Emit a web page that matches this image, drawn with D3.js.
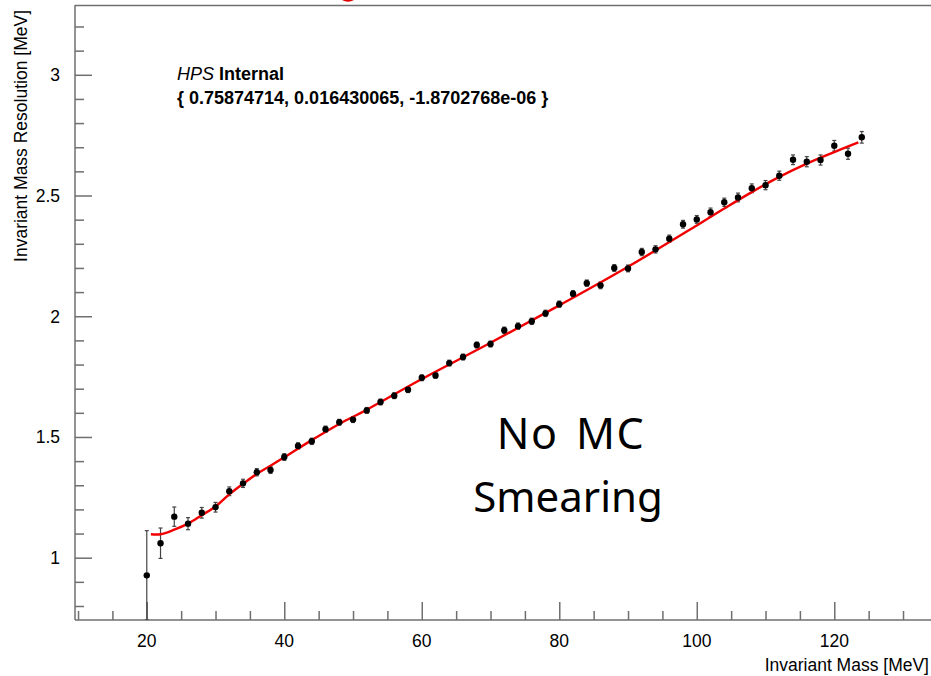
<!DOCTYPE html>
<html>
<head>
<meta charset="utf-8">
<script src="https://cdn.jsdelivr.net/npm/d3@7/dist/d3.min.js"></script>
<style>
  html, body { margin: 0; padding: 0; background: #fff; }
  svg { display: block; }
  text { font-family: "Liberation Sans", Arial, Helvetica, sans-serif; }
</style>
</head>
<body>
<svg id="chart" width="931" height="676"></svg>
<script>
// Measured invariant-mass points (MeV) and their resolutions (MeV)
const massValues = [20, 22, 24, 26, 28, 30, 32, 34, 36, 38, 40, 42, 44, 46, 48, 50,
  52, 54, 56, 58, 60, 62, 64, 66, 68, 70, 72, 74, 76, 78, 80, 82, 84, 86, 88, 90,
  92, 94, 96, 98, 100, 102, 104, 106, 108, 110, 112, 114, 116, 118, 120, 122, 124];
const resolutionValues = [0.927, 1.060, 1.170, 1.141, 1.186, 1.209, 1.275, 1.308, 1.354, 1.363,
  1.417, 1.463, 1.482, 1.532, 1.561, 1.572, 1.610, 1.645, 1.671, 1.696, 1.745, 1.755,
  1.806, 1.831, 1.881, 1.885, 1.942, 1.959, 1.979, 2.012, 2.050, 2.093, 2.137, 2.128,
  2.200, 2.198, 2.266, 2.277, 2.321, 2.381, 2.401, 2.431, 2.472, 2.492, 2.530, 2.543,
  2.582, 2.648, 2.640, 2.647, 2.706, 2.673, 2.741];
const resolutionErrors = [0.185, 0.063, 0.040, 0.025, 0.022, 0.020, 0.018, 0.017, 0.015, 0.014,
  0.014, 0.013, 0.013, 0.013, 0.012, 0.012, 0.012, 0.012, 0.012, 0.012, 0.012, 0.012,
  0.012, 0.012, 0.012, 0.012, 0.013, 0.013, 0.013, 0.013, 0.013, 0.013, 0.013, 0.014,
  0.014, 0.014, 0.015, 0.015, 0.015, 0.016, 0.016, 0.017, 0.017, 0.018, 0.018, 0.019,
  0.019, 0.020, 0.021, 0.021, 0.022, 0.023, 0.024];

// Fitted resolution curve, sampled along the fit range
const fitMass = [20.6, 22, 24, 26, 28, 30, 32, 34, 36, 38, 40, 44, 48, 52, 60, 70, 80, 90,
  100, 104, 108, 112, 116, 120, 123.5];
const fitResolution = [1.097, 1.097, 1.116, 1.141, 1.176, 1.212, 1.262, 1.306, 1.347, 1.381,
  1.416, 1.487, 1.554, 1.613, 1.740, 1.890, 2.045, 2.205, 2.376, 2.446, 2.514, 2.577,
  2.632, 2.680, 2.720];

// Axis tick values and labels
const xMajorTicks = [20, 40, 60, 80, 100, 120];
const yMajorTicks = [1, 1.5, 2, 2.5, 3];
const yTickLabels = ["1", "1.5", "2", "2.5", "3"];
const fitParameters = ["0.75874714", "0.016430065", "-1.8702768e-06"];

const svg = d3.select("#chart");
const axisColor = "#6f6f6f";

const plot = { left: 75, top: 5, bottom: 620 };
const xDomain = [9.56, 134.8];
const yDomain = [0.742, 3.289];
const pxPerUnit = 6.875;

const x = d3.scaleLinear().domain(xDomain)
  .range([plot.left, plot.left + (xDomain[1] - xDomain[0]) * pxPerUnit]);
const y = d3.scaleLinear().domain(yDomain).range([plot.bottom, plot.top]);

svg.append("defs").append("clipPath").attr("id", "plotClip")
  .append("rect").attr("x", plot.left).attr("y", plot.top)
  .attr("width", 931 - plot.left).attr("height", plot.bottom - plot.top);

// Bottom of the red title lettering, just above the frame
svg.append("path")
  .attr("d", "M342,0 Q348,3.5 354,0 Z")
  .attr("fill", "#e00000");

// Frame top line
svg.append("line")
  .attr("x1", plot.left).attr("x2", 931).attr("y1", plot.top + 0.5).attr("y2", plot.top + 0.5)
  .attr("stroke", axisColor).attr("stroke-width", 1.5);

// X axis: major ticks labelled, minor ticks every 5
const xMinor = d3.range(10, 135, 5).filter(v => !xMajorTicks.includes(v));
const xAxisMajor = d3.axisTop(x).tickValues(xMajorTicks).tickSize(18).tickFormat("");
const xAxisMinor = d3.axisTop(x).tickValues(xMinor).tickSize(9).tickFormat("");
[xAxisMajor, xAxisMinor].forEach(ax => {
  const g = svg.append("g").attr("transform", `translate(0,${plot.bottom})`).call(ax);
  g.selectAll("path.domain").remove();
  g.selectAll("line").attr("stroke", axisColor).attr("stroke-width", 1.5);
});
svg.append("line")
  .attr("x1", plot.left).attr("x2", 931).attr("y1", plot.bottom).attr("y2", plot.bottom)
  .attr("stroke", axisColor).attr("stroke-width", 1.5);
svg.append("g").selectAll("text").data(xMajorTicks).join("text")
  .attr("x", d => x(d)).attr("y", 647)
  .attr("text-anchor", "middle").attr("font-size", 17.5).attr("fill", "#000")
  .text(d => d);

// Y axis: major ticks labelled, minor ticks every 0.1
const yMinor = d3.range(8, 33).map(v => v / 10).filter(v => !yMajorTicks.includes(v));
const yAxisMajor = d3.axisRight(y).tickValues(yMajorTicks).tickSize(17).tickFormat("");
const yAxisMinor = d3.axisRight(y).tickValues(yMinor).tickSize(9).tickFormat("");
[yAxisMajor, yAxisMinor].forEach(ax => {
  const g = svg.append("g").attr("transform", `translate(${plot.left},0)`).call(ax);
  g.selectAll("path.domain").remove();
  g.selectAll("line").attr("stroke", axisColor).attr("stroke-width", 1.5);
});
svg.append("line")
  .attr("x1", plot.left).attr("x2", plot.left).attr("y1", plot.top).attr("y2", plot.bottom)
  .attr("stroke", axisColor).attr("stroke-width", 1.5);
svg.append("g").selectAll("text").data(yMajorTicks).join("text")
  .attr("x", 60).attr("y", d => y(d) + 6.3)
  .attr("text-anchor", "end").attr("font-size", 17.5).attr("fill", "#000")
  .text((d, i) => yTickLabels[i]);

// Axis titles
svg.append("text")
  .attr("x", 929).attr("y", 671).attr("text-anchor", "end")
  .attr("font-size", 17.5).attr("fill", "#000")
  .text("Invariant Mass [MeV]");
svg.append("text")
  .attr("transform", "translate(27,10) rotate(-90)")
  .attr("text-anchor", "end").attr("font-size", 17.5).attr("fill", "#000")
  .text("Invariant Mass Resolution [MeV]");

const data = massValues.map((m, i) => ({ m, r: resolutionValues[i], e: resolutionErrors[i] }));
const marks = svg.append("g").attr("clip-path", "url(#plotClip)");

// Error bars
const errG = marks.append("g").attr("stroke", "#444").attr("stroke-width", 1.2);
errG.selectAll("line.bar").data(data).join("line").attr("class", "bar")
  .attr("x1", d => x(d.m)).attr("x2", d => x(d.m))
  .attr("y1", d => y(d.r - d.e)).attr("y2", d => y(d.r + d.e));
errG.selectAll("line.capTop").data(data).join("line").attr("class", "capTop")
  .attr("x1", d => x(d.m) - 2).attr("x2", d => x(d.m) + 2)
  .attr("y1", d => y(d.r + d.e)).attr("y2", d => y(d.r + d.e));
errG.selectAll("line.capBot").data(data).join("line").attr("class", "capBot")
  .attr("x1", d => x(d.m) - 2).attr("x2", d => x(d.m) + 2)
  .attr("y1", d => y(d.r - d.e)).attr("y2", d => y(d.r - d.e));

// Fit curve
const fitData = fitMass.map((m, i) => [m, fitResolution[i]]);
marks.append("path").datum(fitData)
  .attr("fill", "none").attr("stroke", "#f00000").attr("stroke-width", 2.4)
  .attr("d", d3.line().x(d => x(d[0])).y(d => y(d[1])).curve(d3.curveCatmullRom.alpha(0.5)));

// Data markers
marks.append("g").selectAll("circle").data(data).join("circle")
  .attr("cx", d => x(d.m)).attr("cy", d => y(d.r)).attr("r", 3.2).attr("fill", "#000");

// Labels inside the frame
const label = svg.append("text").attr("x", 177).attr("y", 80).attr("font-size", 18).attr("fill", "#000");
label.append("tspan").attr("font-style", "italic").text("HPS");
label.append("tspan").attr("font-weight", "bold").text(" Internal");
svg.append("text").attr("x", 177).attr("y", 104).attr("font-size", 18)
  .attr("font-weight", "bold").attr("fill", "#000")
  .text(`{ ${fitParameters.join(", ")} }`);

svg.append("text").attr("x", 571).attr("y", 449).attr("text-anchor", "middle")
  .style("font-family", "'Noto Sans', sans-serif").attr("font-size", 43)
  .style("letter-spacing", "1.5px").style("word-spacing", "5px").attr("fill", "#000")
  .text("No MC");
svg.append("text").attr("x", 568).attr("y", 512).attr("text-anchor", "middle")
  .style("font-family", "'Noto Sans', sans-serif").attr("font-size", 42).attr("fill", "#000")
  .text("Smearing");
</script>
</body>
</html>
